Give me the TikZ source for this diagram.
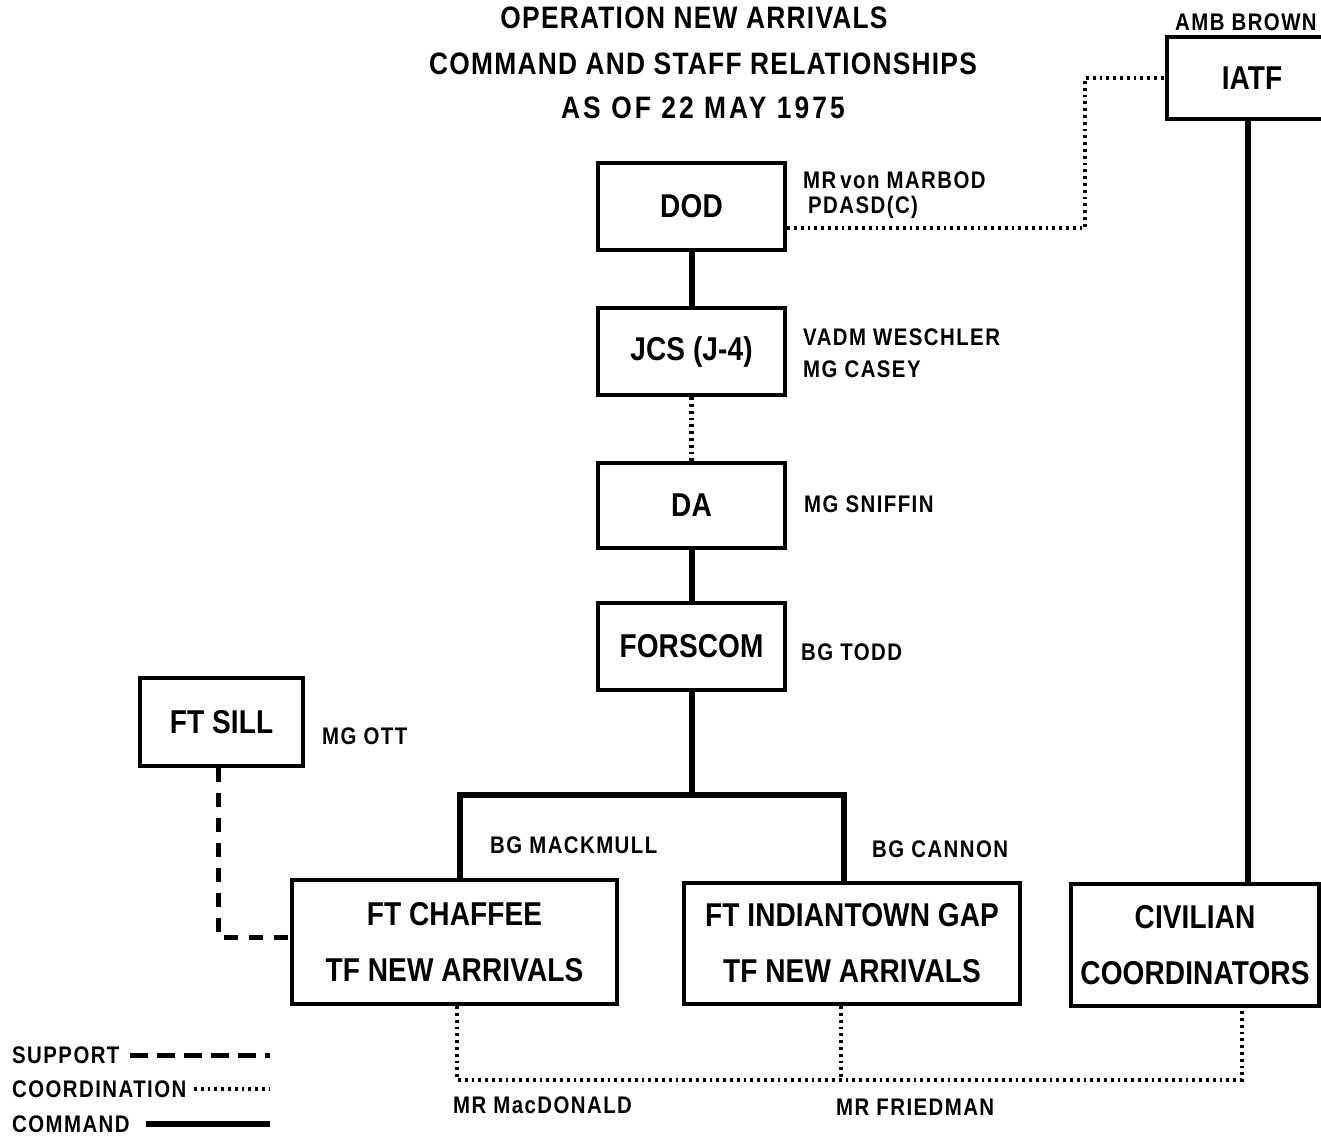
\documentclass[tikz,border=0pt]{standalone}
\usepackage{fontspec}
\setmainfont{Liberation Sans}[FakeStretch=0.85]
\newfontfamily\lblfont{Liberation Sans}[FakeStretch=0.85,LetterSpace=6]
\newfontfamily\ttlfont{Liberation Sans}[FakeStretch=0.85,LetterSpace=4]
\newfontfamily\ttlwfont{Liberation Sans}[FakeStretch=0.85,LetterSpace=10]
\newfontfamily\boxfont{Liberation Sans}[FakeStretch=0.85,LetterSpace=0.3]
\begin{document}
\begin{tikzpicture}[x=1pt,y=-1pt,
  box/.style={draw,line width=4.5pt,inner sep=0pt,font=\boxfont\bfseries\fontsize{33}{40}\selectfont,align=center},
  lbl/.style={anchor=west,inner sep=0pt,font=\lblfont\bfseries\fontsize{24}{32}\selectfont,align=left},
  ttl/.style={inner sep=0pt,font=\ttlfont\bfseries\fontsize{31}{40}\selectfont},
  cmd/.style={line width=6pt},
  coord/.style={line width=4.5pt,dash pattern=on 2.8pt off 4pt},
  supp/.style={line width=5pt,dash pattern=on 14pt off 11pt}]
\useasboundingbox (0,0) rectangle (1321,1137);
\clip (0,0) rectangle (1321,1137);
% titles
\node[ttl] (t1) at (694,18) {OPERATION NEW ARRIVALS};
\node[ttl] (t2) at (703,64) {COMMAND AND STAFF RELATIONSHIPS};
\node[ttl,font=\ttlwfont\bfseries\fontsize{31}{40}\selectfont] (t3) at (703,108) {AS OF 22 MAY 1975};
% boxes
\node[box,minimum width=187,minimum height=87] (dod) at (691.5,206.5) {DOD};
\node[box,minimum width=187,minimum height=87] (jcs) at (691.5,351.5) {JCS (J-4)};
\node[box,minimum width=187,minimum height=85] (da) at (691.5,505.5) {DA};
\node[box,minimum width=187,minimum height=87] (fors) at (691.5,646.5) {FORSCOM};
\node[box,minimum width=163,minimum height=88] (sill) at (221.5,722) {FT SILL};
\node[box,minimum width=325,minimum height=124] (chaf) at (454.5,942) {FT CHAFFEE\\[16pt]TF NEW ARRIVALS};
\node[box,minimum width=336,minimum height=121] (gap) at (852,943.5) {FT INDIANTOWN GAP\\[16pt]TF NEW ARRIVALS};
\node[box,minimum width=248,minimum height=122] (civ) at (1195,945) {CIVILIAN\\[16pt]COORDINATORS};
\node[box,minimum width=170,minimum height=82] (iatf) at (1252,78) {IATF};
% labels
\node[lbl] (lbrown) at (1175,22) {AMB BROWN};
\node[lbl] (lmar) at (803,180) {MR\,von MARBOD};
\node[lbl] (lpda) at (808,207) {PDASD(C)};
\node[lbl] (lvad) at (803,337) {VADM WESCHLER};
\node[lbl] (lcas) at (803,369) {MG CASEY};
\node[lbl] (lsni) at (804,504) {MG SNIFFIN};
\node[lbl] (ltod) at (801,652) {BG TODD};
\node[lbl] (lott) at (322,736) {MG OTT};
\node[lbl] (lmac) at (490,845) {BG MACKMULL};
\node[lbl] (lcan) at (872,849) {BG CANNON};
\node[lbl] (lmcd) at (453,1105) {MR MacDONALD};
\node[lbl] (lfri) at (836,1107) {MR FRIEDMAN};
% command lines
\draw[cmd] (dod.south) -- (jcs.north);
\draw[cmd] (da.south) -- (fors.north);
\coordinate (bar) at (691.5,795);
\draw[cmd] (fors.south) -- (bar);
\draw[cmd] (chaf.north -| 460,0) |- (bar) -| (gap.north -| 844,0);
\draw[cmd] (iatf.south -| 1248,0) -- (civ.north -| 1248,0);
% coordination
\draw[coord] (jcs.south) -- (da.north);
\coordinate (c1) at (1085,228);
\coordinate (c2) at (1085,78);
\draw[coord] (dod.east |- c1) -- (c1) -- (c2) -- (iatf.west |- c2);
\coordinate (b1) at (457,1080);
\coordinate (b3) at (1242,1080);
\draw[coord] (chaf.south -| b1) -- (b1) -- (b3) -- (civ.south -| b3);
\draw[coord] (gap.south -| 841,0) -- (841,1080);
% support
\coordinate (s1) at (218,937);
\draw[supp] (sill.south -| s1) -- (s1) -- (chaf.west |- s1);
% legend
\node[lbl] (lsup) at (12,1055) {SUPPORT};
\node[lbl] (lcoo) at (12,1089) {COORDINATION};
\node[lbl] (lcom) at (12,1124) {COMMAND};
\coordinate (e1) at (270,1055);
\coordinate (e2) at (270,1089);
\coordinate (e3) at (270,1124);
\draw[supp,line width=5pt,dash pattern=on 18pt off 9pt] (130,1055) -- (e1);
\draw[coord,line width=3.5pt] (194,1089) -- (e2);
\draw[cmd] (146,1124) -- (e3);
\end{tikzpicture}
\end{document}
